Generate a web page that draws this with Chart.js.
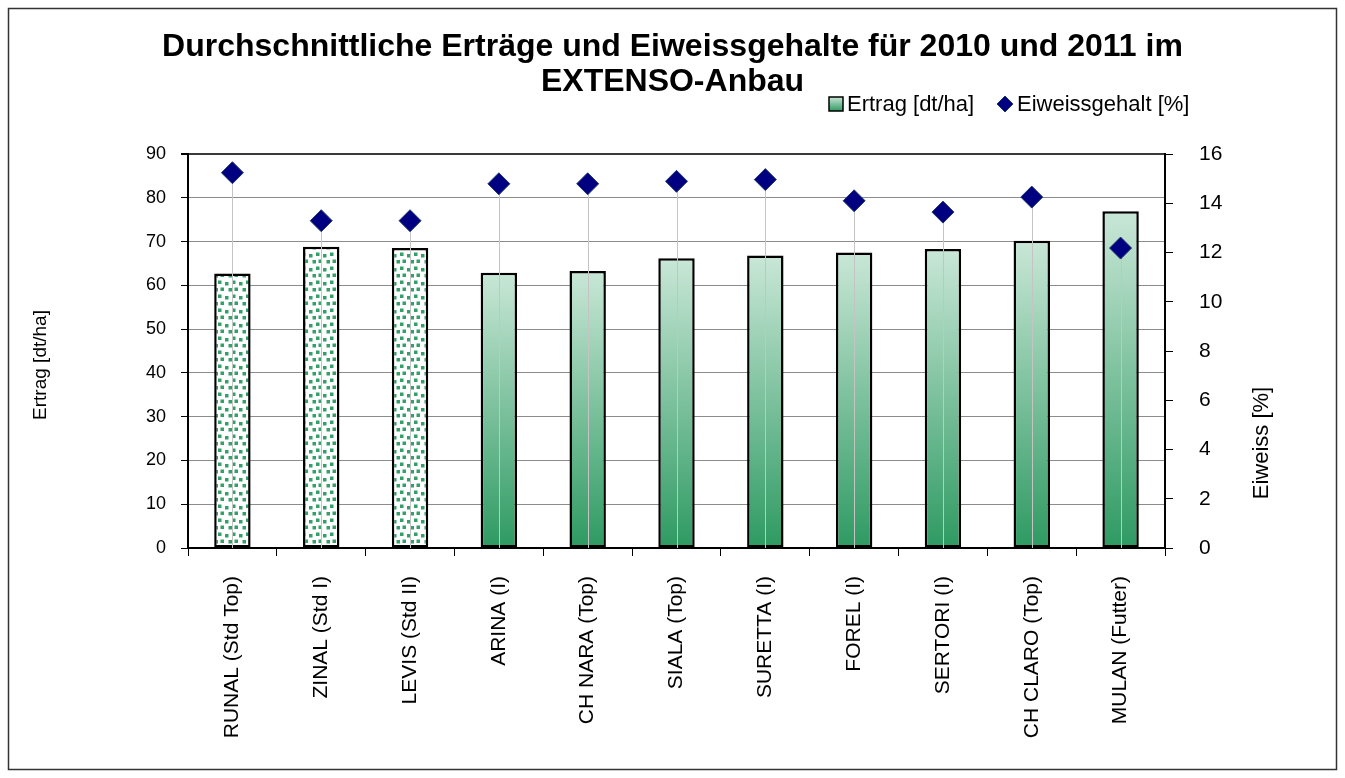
<!DOCTYPE html>
<html>
<head>
<meta charset="utf-8">
<title>Erträge und Eiweissgehalte EXTENSO</title>
<script src="https://cdn.jsdelivr.net/npm/chart.js@4.4.1/dist/chart.umd.min.js"></script>
<style>
  body { margin: 0; background: #fff; }
  #wrap { position: absolute; left: 0; top: 0; width: 1345px; height: 778px; }
</style>
</head>
<body>
<div id="wrap"><canvas id="chart"></canvas></div>
<script>
const sorten = ["RUNAL (Std Top)", "ZINAL (Std I)", "LEVIS (Std II)", "ARINA (I)", "CH NARA (Top)",
  "SIALA (Top)", "SURETTA (I)", "FOREL (I)", "SERTORI (I)", "CH CLARO (Top)", "MULAN (Futter)"];
const ertrag = [62.7, 68.8, 68.5, 62.9, 63.3, 66.2, 66.8, 67.5, 68.3, 70.2, 76.9];
const eiweiss = [15.24, 13.29, 13.29, 14.79, 14.79, 14.89, 14.96, 14.10, 13.64, 14.25, 12.18];
const ertragTicks = [0, 90, 10];
const eiweissTicks = [0, 16, 2];
const anzahlStandards = 3; // die ersten drei Sorten sind Standards (gepunktet)

const titel = ["Durchschnittliche Erträge und Eiweissgehalte für 2010 und 2011 im", "EXTENSO-Anbau"];
const FONT = '"Liberation Sans", Arial, sans-serif';
const hell = "#c9e7d7", dunkel = "#2e9a62";

Chart.defaults.font.family = FONT;
Chart.defaults.color = "#000";

const canvas = document.getElementById("chart");
const ctx = canvas.getContext("2d");

function punktMuster() {
  const c = document.createElement("canvas");
  c.width = 14; c.height = 14;
  const g = c.getContext("2d");
  g.fillStyle = "#fff";
  g.fillRect(0, 0, 14, 14);
  g.fillStyle = "#32a068";
  g.fillRect(1, 2, 3.5, 3.5);
  g.fillRect(8, 0.5, 3.5, 3.5);
  g.fillRect(4.5, 8, 3.5, 3.5);
  g.fillRect(10.5, 7.5, 3.5, 3.5);
  return ctx.createPattern(c, "repeat");
}
const muster = punktMuster();

function balkenFarbe(context) {
  if (context.dataIndex < anzahlStandards) return muster;
  const chart = context.chart;
  if (!chart.chartArea) return hell;
  const yScale = chart.scales.y;
  const top = yScale.getPixelForValue(context.raw);
  const bottom = yScale.getPixelForValue(0);
  const grad = chart.ctx.createLinearGradient(0, top, 0, bottom);
  grad.addColorStop(0, hell);
  grad.addColorStop(1, dunkel);
  return grad;
}

// senkrechte Linien von jedem Punkt zur x-Achse
const lotLinien = {
  id: "lotLinien",
  beforeDatasetDraw(chart, args) {
    if (args.index !== 0) return;
    const c = chart.ctx;
    const bottom = chart.chartArea.bottom;
    c.save();
    c.strokeStyle = "#c4c4c4";
    c.lineWidth = 1;
    args.meta.data.forEach(p => {
      c.beginPath();
      c.moveTo(Math.round(p.x) + 0.5, p.y);
      c.lineTo(Math.round(p.x) + 0.5, bottom);
      c.stroke();
    });
    c.restore();
  }
};

// Rahmen, Achsentitel und Legende
const extras = {
  id: "extras",
  afterDraw(chart) {
    const c = chart.ctx;
    c.save();
    c.strokeStyle = "#333";
    c.lineWidth = 1.5;
    c.strokeRect(8.5, 8.5, 1328, 761);

    c.fillStyle = "#000";
    c.textAlign = "center";
    c.textBaseline = "middle";
    c.font = "19px " + FONT;
    c.save();
    c.translate(41, 365);
    c.rotate(-Math.PI / 2);
    c.fillText("Ertrag [dt/ha]", 0, 0);
    c.restore();

    c.font = "22px " + FONT;
    c.save();
    c.translate(1262, 443);
    c.rotate(-Math.PI / 2);
    c.fillText("Eiweiss [%]", 0, 0);
    c.restore();

    // Legende
    const ly = 104;
    const g = c.createLinearGradient(0, ly - 7, 0, ly + 7);
    g.addColorStop(0, hell);
    g.addColorStop(1, dunkel);
    c.fillStyle = g;
    c.fillRect(829, ly - 7, 14, 14);
    c.strokeStyle = "#000";
    c.lineWidth = 1.5;
    c.strokeRect(829, ly - 7, 14, 14);
    c.fillStyle = "#000";
    c.textAlign = "left";
    c.font = "22px " + FONT;
    c.fillText("Ertrag [dt/ha]", 847, ly + 1);

    c.beginPath();
    c.moveTo(1005, ly - 8);
    c.lineTo(1013, ly);
    c.lineTo(1005, ly + 8);
    c.lineTo(997, ly);
    c.closePath();
    c.fillStyle = "#000080";
    c.fill();
    c.strokeStyle = "#1d3a66";
    c.lineWidth = 1;
    c.stroke();
    c.fillStyle = "#000";
    c.fillText("Eiweissgehalt [%]", 1017, ly + 1);
    c.restore();
  }
};

new Chart(canvas, {
  data: {
    labels: sorten,
    datasets: [
      {
        type: "line",
        label: "Eiweissgehalt [%]",
        data: eiweiss,
        yAxisID: "y1",
        showLine: false,
        pointStyle: "rectRot",
        pointRadius: 11,
        pointBackgroundColor: "#000080",
        pointBorderColor: "#1d3a66",
        pointBorderWidth: 1,
        order: 0
      },
      {
        type: "bar",
        label: "Ertrag [dt/ha]",
        data: ertrag,
        yAxisID: "y",
        backgroundColor: balkenFarbe,
        borderColor: "#000",
        borderWidth: 2.5,
        borderSkipped: false,
        barPercentage: 0.82,
        categoryPercentage: 0.5,
        order: 1
      }
    ]
  },
  options: {
    responsive: true,
    maintainAspectRatio: false,
    animation: false,
    layout: { padding: 0 },
    plugins: {
      legend: { display: false },
      tooltip: { enabled: false },
      title: {
        display: true,
        text: titel,
        color: "#000",
        font: { size: 32, weight: "bold", lineHeight: 35 / 32 },
        padding: { top: 30, bottom: 54 }
      }
    },
    scales: {
      x: {
        offset: true,
        grid: { offset: true, drawOnChartArea: false, drawTicks: true, tickLength: 8, color: "#000" },
        border: { color: "#000", width: 2 },
        ticks: { minRotation: 90, maxRotation: 90, autoSkip: false, font: { size: 21 }, padding: 20, color: "#000" },
        afterFit(s) { s.height = 230; }
      },
      y: {
        position: "left",
        min: ertragTicks[0],
        max: ertragTicks[1],
        ticks: { stepSize: ertragTicks[2], font: { size: 18 }, padding: 15, color: "#000" },
        grid: {
          color: c => (c.tick && c.tick.value === ertragTicks[1]) ? "#3a3a3a" : "#8c8c8c",
          lineWidth: c => (c.tick && c.tick.value === ertragTicks[1]) ? 2 : 1,
          tickColor: "#000",
          tickLength: 7
        },
        border: { color: "#000", width: 2 },
        afterFit(s) { s.width = 188; }
      },
      y1: {
        position: "right",
        min: eiweissTicks[0],
        max: eiweissTicks[1],
        ticks: { stepSize: eiweissTicks[2], font: { size: 21 }, padding: 26, color: "#000" },
        grid: { drawOnChartArea: false, tickColor: "#000", tickLength: 8 },
        border: { color: "#000", width: 2 },
        afterFit(s) { s.width = 180; }
      }
    }
  },
  plugins: [lotLinien, extras]
});
</script>
</body>
</html>
